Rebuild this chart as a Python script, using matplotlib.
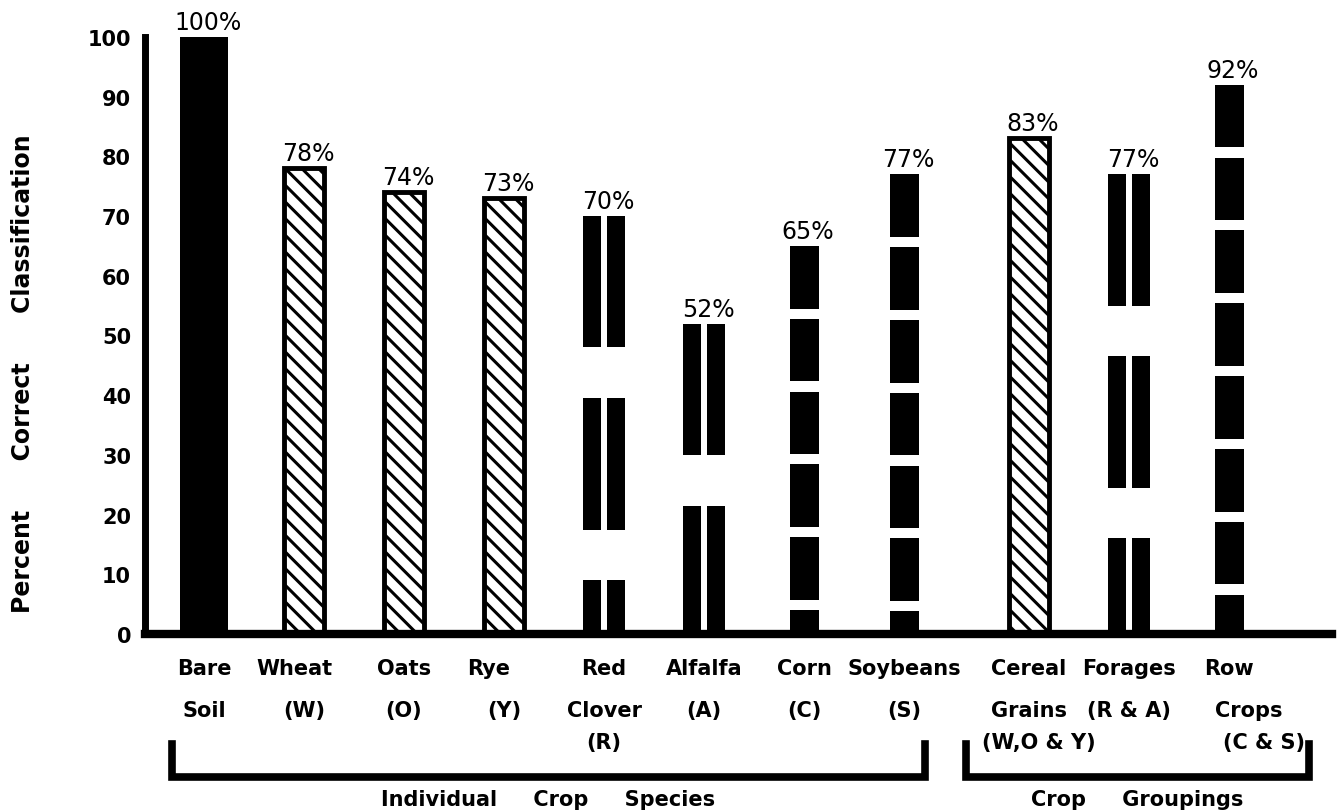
import numpy as np
import matplotlib
matplotlib.use("Agg")
import matplotlib.pyplot as plt
from matplotlib.transforms import blended_transform_factory

# chart values
line1 = ["Bare", "Wheat", "Oats", "Rye", "Red", "Alfalfa", "Corn", "Soybeans",
         "Cereal", "Forages", "Row"]
line2 = ["Soil", "(W)", "(O)", "(Y)", "Clover", "(A)", "(C)", "(S)",
         "Grains", "(R & A)", "Crops"]
line3 = ["", "", "", "", "(R)", "", "", "", "(W,O & Y)", "", "(C & S)"]
percent = [100, 78, 74, 73, 70, 52, 65, 77, 83, 77, 92]
pattern = ["solid", "hatch", "hatch", "hatch", "double", "double", "dash", "dash",
           "hatch", "double", "dash"]
groups = ["Individual     Crop     Species", "Crop     Groupings"]
yticks = [0, 10, 20, 30, 40, 50, 60, 70, 80, 90, 100]

plt.rcParams["hatch.linewidth"] = 2.2
plt.rcParams["hatch.color"] = "black"

W, H = 1340, 812
fig = plt.figure(figsize=(W / 100, H / 100), dpi=100)
fig.patch.set_facecolor("white")
ax = fig.add_axes([145 / W, (H - 635) / H, (1332 - 145) / W, 609 / H])

# 8 single crops, then the 3 groupings after a small gap
x = np.concatenate([np.arange(8), 8.25 + np.arange(3)])

for xi, v, kind in zip(x, percent, pattern):
    if kind == "solid":
        ax.bar(xi, v, width=0.48, color="black")
    elif kind == "hatch":
        ax.bar(xi, v, width=0.40, color="white", edgecolor="black",
               linewidth=3.5, hatch="\\\\")
    elif kind == "dash":
        dash, gap = 10.5, 1.7
        for top in np.arange(v, 0, -(dash + gap)):
            lo = max(top - dash, 0)
            ax.bar(xi, top - lo, bottom=lo, width=0.29, color="black")
    else:
        dash, gap = 22, 8.5
        for top in np.arange(v, 0, -(dash + gap)):
            lo = max(top - dash, 0)
            for dx in (-0.12, 0.12):
                ax.bar(xi + dx, top - lo, bottom=lo, width=0.18, color="black")
    ax.text(xi + 0.04, v + 0.5, f"{v}%", ha="center", va="bottom", fontsize=17)

ax.set_xlim(-0.59, 11.28)
ax.set_ylim(0, 102)
ax.set_xticks([])
ax.set_yticks(yticks)
ax.tick_params(axis="y", length=0, pad=10, labelsize=15)
for lbl in ax.get_yticklabels():
    lbl.set_fontweight("bold")

for s in ["top", "right"]:
    ax.spines[s].set_visible(False)
ax.spines["left"].set_linewidth(5)
ax.spines["left"].set_bounds(0, 100)
ax.spines["bottom"].set_linewidth(6)

# category labels under the axis
tr = blended_transform_factory(ax.transData, fig.transFigure)
shift = {"Crops": 0.2, "(C & S)": 0.35, "(W,O & Y)": 0.1, "Rye": -0.15, "Wheat": -0.1}
for xi, a, b, c in zip(x, line1, line2, line3):
    for txt, yy in ((a, (H - 669) / H), (b, (H - 711) / H), (c, (H - 743) / H)):
        if txt:
            ax.text(xi + shift.get(txt, 0), yy, txt, transform=tr, ha="center",
                    va="center", fontsize=15, fontweight="bold")

# brackets
yb_top, yb_bot = (H - 745) / H, (H - 778) / H
for x0, x1 in ((x[0] - 0.32, x[7] + 0.21), (x[8] - 0.63, x[10] + 0.8)):
    ax.plot([x0, x0, x1, x1], [yb_top, yb_bot, yb_bot, yb_top], color="black",
            lw=5.5, transform=tr, clip_on=False, solid_joinstyle="miter")
ax.text((x[0] - 0.32 + x[7] + 0.21) / 2, (H - 800) / H, groups[0], transform=tr,
        ha="center", va="center", fontsize=15, fontweight="bold")
ax.text((x[8] - 0.63 + x[10] + 0.8) / 2, (H - 800) / H, groups[1], transform=tr,
        ha="center", va="center", fontsize=15, fontweight="bold")

fig.text(23 / W, (H - 374) / H,
         "Percent      Correct      Classification",
         rotation=90, ha="center", va="center", fontsize=17, fontweight="bold")

fig.savefig("out.png", dpi=100, facecolor="white")
